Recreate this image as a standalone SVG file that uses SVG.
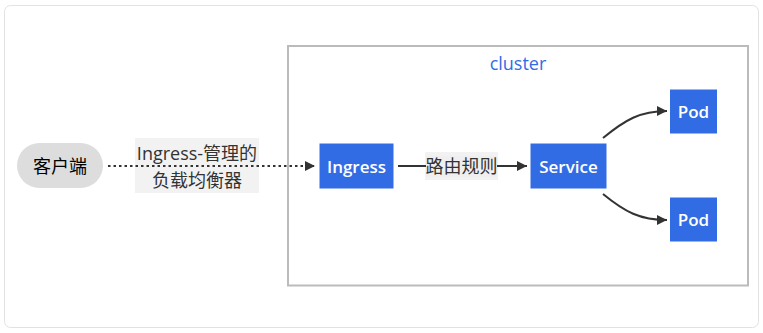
<svg xmlns="http://www.w3.org/2000/svg" width="763" height="333" viewBox="0 0 763 333">
<defs>
<marker id="arr" viewBox="0 0 10 10" refX="10" refY="5" markerWidth="10" markerHeight="10" markerUnits="userSpaceOnUse" orient="auto">
<path d="M0,0 L10,5 L0,10 z" fill="#333"/>
</marker>
</defs>
<style>
text{font-family:"Open Sans","Noto Sans CJK SC",sans-serif;font-size:18px;text-anchor:middle;dominant-baseline:central}
.k8s{fill:#326ce5;stroke:#fff;stroke-width:1}
.wt{fill:#fff;font-weight:600;font-size:17px}
.edge{fill:none;stroke:#333;stroke-width:2}
.lbl{fill:#efefef;opacity:0.8}
</style>
<rect x="4.5" y="5.5" width="754" height="322" rx="6" fill="#fff" stroke="#e2e2e2"/>
<g id="cluster">
<rect x="288" y="46" width="460" height="239.5" fill="#fff" stroke="#bbb" stroke-width="2"/>
<text x="518" y="63" fill="#326ce5">cluster</text>
</g>
<g id="edges">
<rect class="lbl" x="135" y="138" width="124" height="55"/>
<rect class="lbl" x="425" y="152" width="73" height="28"/>
<path class="edge" d="M108,166 L315,166" stroke-width="2.5" stroke-dasharray="2.5,3" marker-end="url(#arr)"/>
<path class="edge" d="M398,166 L527,166" marker-end="url(#arr)"/>
<path class="edge" d="M603,138 C625,120 640,111 667,111" marker-end="url(#arr)"/>
<path class="edge" d="M603,194 C625,212 640,220 667,220" marker-end="url(#arr)"/>
<text x="197" y="153" fill="#333">Ingress-管理的</text>
<text x="197" y="180" fill="#333">负载均衡器</text>
<rect x="426" y="156" width="71" height="21" fill="#efefef"/>
<text x="461.5" y="166" fill="#333">路由规则</text>
</g>
<g id="client">
<rect x="17" y="143" width="86" height="45" rx="22.5" fill="#ddd"/>
<text x="60" y="166" fill="#000">客户端</text>
</g>
<g id="ingress">
<rect class="k8s" x="319" y="143" width="75" height="46"/>
<text class="wt" x="356.5" y="166">Ingress</text>
</g>
<g id="service">
<rect class="k8s" x="530" y="143" width="77" height="46"/>
<text class="wt" x="568.5" y="166">Service</text>
</g>
<g id="pod1">
<rect class="k8s" x="669.5" y="89" width="48" height="45"/>
<text class="wt" x="693.5" y="111.5">Pod</text>
</g>
<g id="pod2">
<rect class="k8s" x="669.5" y="197" width="48" height="45"/>
<text class="wt" x="693.5" y="219.5">Pod</text>
</g>
</svg>
